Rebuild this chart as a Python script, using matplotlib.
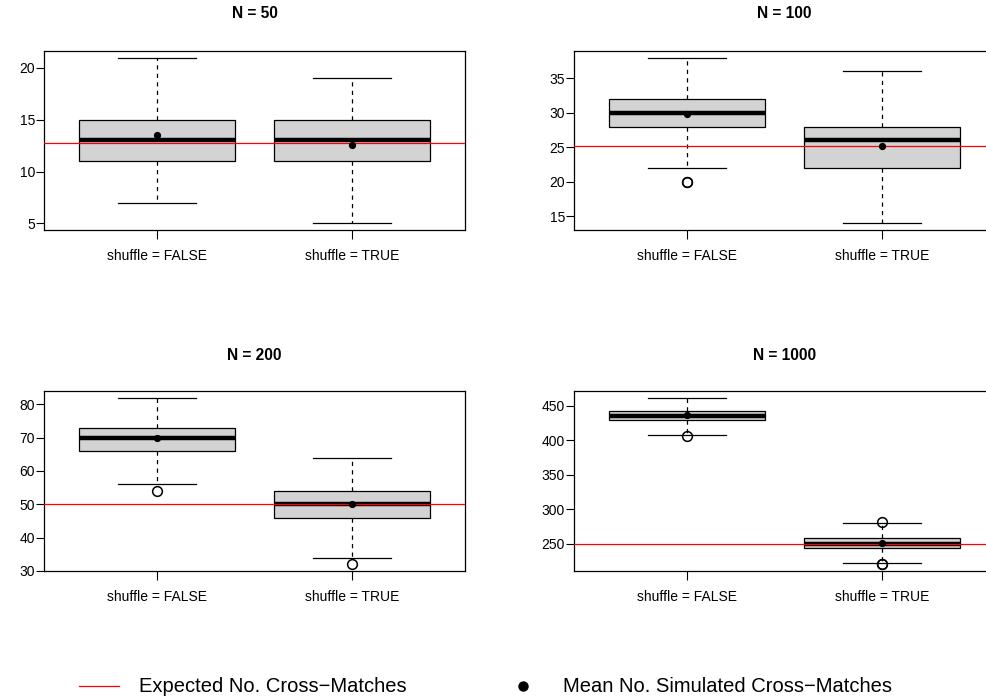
import matplotlib
matplotlib.use("Agg")
import matplotlib.pyplot as plt
from matplotlib.lines import Line2D
from matplotlib.ticker import MultipleLocator

plt.rcParams['font.family'] = ['Liberation Sans', 'DejaVu Sans']

groups = ["shuffle = FALSE", "shuffle = TRUE"]
n_values = [50, 100, 200, 1000]
expected = [12.75, 25.25, 50.25, 250.25]

# box stats per panel: [FALSE, TRUE]
whislo = [[7, 5], [22, 14], [56, 34], [408, 222]]
q1 = [[11, 11], [28, 22], [66, 46], [429, 243]]
med = [[13, 13], [30, 26], [70, 50], [436, 250]]
q3 = [[15, 15], [32, 28], [73, 54], [443, 258]]
whishi = [[21, 19], [38, 36], [82, 64], [462, 280]]
means = [[13.5, 12.6], [29.9, 25.15], [69.8, 50.1], [436.5, 251]]
fliers = [[[], []], [[20, 20], []], [[54], [32]], [[406], [282, 220, 220]]]
ytick_step = [5, 5, 10, 50]

W, H = 986, 700
fig = plt.figure(figsize=(W / 100, H / 100), dpi=100)

# panel boxes in pixels: left, top, right, bottom
panels = [(44, 51, 465, 230), (574, 51, 995, 230),
          (44, 391, 465, 571), (574, 391, 995, 571)]
title_y = [14, 14, 356, 356]

for k in range(4):
    l, t, r, b = panels[k]
    ax = fig.add_axes([l / W, 1 - b / H, (r - l) / W, (b - t) / H])
    stats = []
    for g in range(2):
        stats.append(dict(whislo=whislo[k][g], q1=q1[k][g], med=med[k][g],
                          q3=q3[k][g], whishi=whishi[k][g],
                          fliers=fliers[k][g]))
    ax.bxp(stats, positions=[1, 2], widths=0.8, capwidths=0.4,
           patch_artist=True, showfliers=True,
           boxprops=dict(facecolor='#d3d3d3', edgecolor='black', linewidth=0.9),
           medianprops=dict(color='black', linewidth=3.2, solid_capstyle='butt'),
           whiskerprops=dict(color='black', linewidth=0.9, linestyle=(0, (3.4, 3.4))),
           capprops=dict(color='black', linewidth=0.9),
           flierprops=dict(marker='o', markerfacecolor='none', markeredgecolor='black',
                           markersize=7, markeredgewidth=1.1))
    ax.axhline(expected[k], color='red', linewidth=0.9, zorder=4)
    ax.plot([1, 2], means[k], 'o', color='black', markersize=4.2, zorder=5)

    lo = min([whislo[k][g] for g in range(2)] + [v for g in range(2) for v in fliers[k][g]])
    hi = max([whishi[k][g] for g in range(2)] + [v for g in range(2) for v in fliers[k][g]])
    pad = (hi - lo) * 0.04
    ax.set_ylim(lo - pad, hi + pad)
    ax.set_xlim(0.42, 2.58)
    ax.yaxis.set_major_locator(MultipleLocator(ytick_step[k]))
    ax.set_xticks([1, 2])
    ax.set_xticklabels(groups)
    ax.tick_params(axis='y', length=5.8, width=0.8, pad=0.6, labelsize=10)
    ax.tick_params(axis='x', length=6.5, width=0.8, pad=7, labelsize=10)
    for s in ax.spines.values():
        s.set_linewidth(0.9)
    fig.text((l + r) / 2 / W, 1 - title_y[k] / H, "N = " + str(n_values[k]),
             ha='center', va='center', fontsize=11.2, fontweight='bold')

# legend
ly = 1 - 686 / H
fig.add_artist(Line2D([79 / W, 119 / W], [ly, ly], color='red', linewidth=0.9))
fig.text(139 / W, ly, "Expected No. Cross\u2212Matches", va='center', fontsize=14.5)
fig.add_artist(Line2D([523 / W], [ly], marker='o', markersize=6.5, color='black'))
fig.text(563 / W, ly, "Mean No. Simulated Cross\u2212Matches", va='center', fontsize=14.5)

fig.savefig("out.png", dpi=100)
